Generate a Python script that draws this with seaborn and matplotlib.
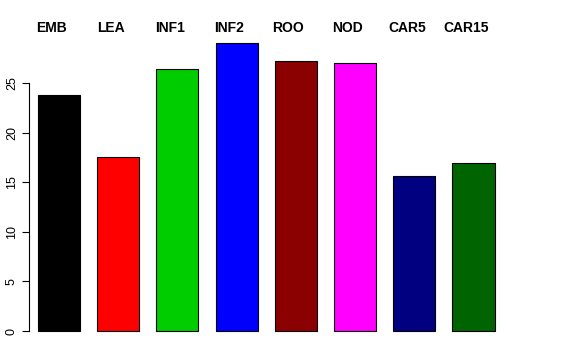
import matplotlib
matplotlib.use("Agg")
import matplotlib.pyplot as plt
import matplotlib.transforms as mtransforms
import seaborn as sns
import pandas as pd

# ==========================
# DATA
# ==========================

tissues = ["EMB", "LEA", "INF1", "INF2", "ROO", "NOD", "CAR5", "CAR15"]
values = [23.8, 17.6, 26.4, 29.1, 27.2, 27.0, 15.6, 17.0]
bar_colors = ["#000000", "#FF0000", "#00CD00", "#0000FF",
              "#8B0000", "#FF00FF", "#000080", "#006400"]
yticks = [0, 5, 10, 15, 20, 25]

df = pd.DataFrame({"tissue": tissues, "value": values})

# ==========================
# PLOT
# ==========================

sns.set_style("white")
plt.rcParams["font.family"] = ["Liberation Sans", "DejaVu Sans"]
plt.rcParams["text.color"] = "black"
plt.rcParams["ytick.color"] = "black"

fig = plt.figure(figsize=(5.76, 3.6), dpi=100)
# axes placed in pixel terms: left 29px, right ~503px, y=0 at 331px
ax = fig.add_axes([29 / 576, 1 - 342.5 / 360, (503.5 - 29) / 576, (342.5 - 31.7) / 360])

sns.barplot(data=df, x="tissue", y="value", hue="tissue", palette=bar_colors,
            width=0.71, edgecolor="black", linewidth=0.8, legend=False,
            saturation=1, ax=ax)

ax.set_xlim(-0.507, 7.507)
ax.set_ylim(-1.16, 30.2)
ax.set_yticks(yticks)
ax.set_yticklabels([str(t) for t in yticks], rotation=90, va="center",
                   fontsize=9, color="black")
ax.tick_params(axis="y", length=5, width=0.8, color="black", pad=3, left=True)
ax.set_xticks([])
ax.set_xlabel("")
ax.set_ylabel("")

for s in ["top", "right", "bottom"]:
    ax.spines[s].set_visible(False)
ax.spines["left"].set_bounds(0, 25)
ax.spines["left"].set_color("black")
ax.spines["left"].set_linewidth(0.8)

# tissue labels above the plot
trans = mtransforms.blended_transform_factory(ax.transData, fig.transFigure)
for i, name in enumerate(tissues):
    ax.text(i - 0.125, 1 - 28.5 / 360, name, transform=trans,
            ha="center", va="center", fontsize=10, fontweight="bold",
            color="black")

fig.savefig("out.png", dpi=100)
